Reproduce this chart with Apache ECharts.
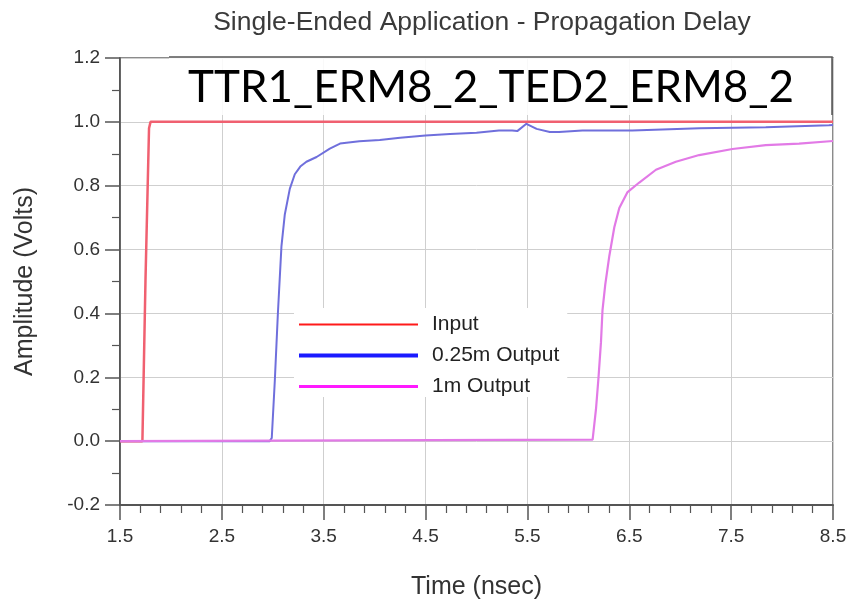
<!DOCTYPE html>
<html>
<head>
<meta charset="utf-8">
<title>Single-Ended Application - Propagation Delay</title>
<script src="https://cdn.jsdelivr.net/npm/echarts@6/dist/echarts.min.js"></script>
<style>
    html, body { margin: 0; padding: 0; background: #fff; }
    #chart { width: 851px; height: 605px; }
</style>
</head>
<body>
<div id="chart"></div>
<script>
// time in nsec, amplitude in volts
const inputWave = [
    [1.5, 0], [1.72, 0], [1.75, 0.5], [1.785, 0.98], [1.8, 1.0], [8.5, 1.0]
];
const output025m = [
    [1.5, 0], [2.97, 0], [2.99, 0.01], [3.02, 0.19], [3.05, 0.40], [3.085, 0.61],
    [3.118, 0.71], [3.167, 0.79], [3.216, 0.836], [3.27, 0.86], [3.33, 0.875],
    [3.43, 0.89], [3.56, 0.916], [3.66, 0.932], [3.85, 0.939], [4.05, 0.943],
    [4.25, 0.95], [4.5, 0.957], [4.74, 0.962], [5.0, 0.966], [5.22, 0.973],
    [5.35, 0.973], [5.4, 0.971], [5.49, 0.994], [5.59, 0.978], [5.72, 0.968],
    [5.81, 0.968], [6.04, 0.973], [6.53, 0.973], [7.19, 0.98], [7.84, 0.983],
    [8.46, 0.989], [8.5, 0.99]
];
const output1m = [
    [1.5, 0], [6.14, 0.005], [6.173, 0.10], [6.198, 0.20], [6.222, 0.31],
    [6.237, 0.41], [6.264, 0.49], [6.304, 0.58], [6.353, 0.67], [6.402, 0.73],
    [6.483, 0.78], [6.598, 0.81], [6.762, 0.85], [6.957, 0.875], [7.186, 0.896],
    [7.513, 0.915], [7.84, 0.927], [8.167, 0.932], [8.5, 0.94]
];
const seriesNames = ['Input', '0.25m Output', '1m Output'];
const plotColors = ['#f06070', '#6f6fdc', '#e27ae6'];
const legendColors = ['#ff1a1a', '#1a1aff', '#ff1aff'];
const legendWidths = [2, 4, 3];

const chart = echarts.init(document.getElementById('chart'));
const font = '"Liberation Sans", Arial, sans-serif';

const option = {
    animation: false,
    backgroundColor: '#fff',
    title: {
        text: 'Single-Ended Application - Propagation Delay',
        left: 477,
        top: 4,
        textAlign: 'center',
        textStyle: { fontFamily: font, fontSize: 26.5, fontWeight: 'normal', color: '#3a3a3a' }
    },
    grid: {
        left: 120, right: 18, top: 58, bottom: 95,
        show: true, borderColor: '#666', borderWidth: 1.5
    },
    legend: {
        orient: 'vertical',
        left: 294,
        top: 308,
        padding: [6, 8, 0, 3],
        itemGap: 10,
        itemWidth: 119,
        itemHeight: 22,
        backgroundColor: '#fff',
        textStyle: { fontFamily: font, fontSize: 21, color: '#222', padding: [0, 0, 0, 9] },
        data: seriesNames.map((name, i) => ({
            name: name,
            itemStyle: { opacity: 0 },
            lineStyle: { color: legendColors[i], width: legendWidths[i] }
        }))
    },
    xAxis: {
        type: 'value',
        min: 1.5,
        max: 8.5,
        interval: 1,
        name: 'Time (nsec)',
        nameLocation: 'middle',
        nameGap: 70,
        nameTextStyle: { fontFamily: font, fontSize: 25, color: '#333' },
        axisLine: { show: true, onZero: false, lineStyle: { color: '#555', width: 2 } },
        axisTick: { show: true, length: 15, lineStyle: { color: '#555', width: 1.5 } },
        minorTick: { show: true, splitNumber: 5, length: 8, lineStyle: { color: '#555', width: 1.2 } },
        axisLabel: {
            margin: 22,
            fontFamily: font, fontSize: 19, color: '#333',
            formatter: v => v.toFixed(1)
        },
        splitLine: { show: true, lineStyle: { color: '#cfcfcf', width: 1 } }
    },
    yAxis: {
        type: 'value',
        min: -0.2,
        max: 1.2,
        interval: 0.2,
        name: 'Amplitude (Volts)',
        nameLocation: 'middle',
        nameGap: 82,
        nameTextStyle: { fontFamily: font, fontSize: 25, color: '#333' },
        axisLine: { show: true, onZero: false, lineStyle: { color: '#444', width: 1.5 } },
        axisTick: { show: true, length: 15, lineStyle: { color: '#555', width: 1.5 } },
        minorTick: { show: true, splitNumber: 2, length: 8, lineStyle: { color: '#555', width: 1.2 } },
        axisLabel: {
            margin: 20,
            fontFamily: font, fontSize: 19, color: '#333',
            formatter: v => v.toFixed(1)
        },
        splitLine: { show: true, lineStyle: { color: '#cfcfcf', width: 1 } }
    },
    graphic: [
        {
            type: 'rect',
            shape: { x: 169, y: 56, width: 663, height: 59 },
            style: { fill: 'rgba(255,255,255,0.88)' },
            z: 10
        },
        {
            type: 'polyline',
            shape: { points: [[169, 57], [832, 57], [832, 115]] },
            style: { stroke: '#555', lineWidth: 1.5, fill: null },
            z: 11
        },
        {
            type: 'text',
            x: 491,
            y: 88,
            style: {
                text: 'TTR1_ERM8_2_TED2_ERM8_2',
                fontFamily: 'Lato, "Open Sans", sans-serif',
                fontSize: 44,
                fill: '#000',
                align: 'center',
                verticalAlign: 'middle'
            },
            z: 12
        }
    ],
    series: [
        { name: seriesNames[0], type: 'line', data: inputWave, symbol: 'none',
          lineStyle: { color: plotColors[0], width: 2.5 }, itemStyle: { color: plotColors[0] }, z: 3 },
        { name: seriesNames[1], type: 'line', data: output025m, symbol: 'none',
          lineStyle: { color: plotColors[1], width: 2 }, itemStyle: { color: plotColors[1] }, z: 2 },
        { name: seriesNames[2], type: 'line', data: output1m, symbol: 'none',
          lineStyle: { color: plotColors[2], width: 2.2 }, itemStyle: { color: plotColors[2] }, z: 4 }
    ]
};

chart.setOption(option);
</script>
</body>
</html>
